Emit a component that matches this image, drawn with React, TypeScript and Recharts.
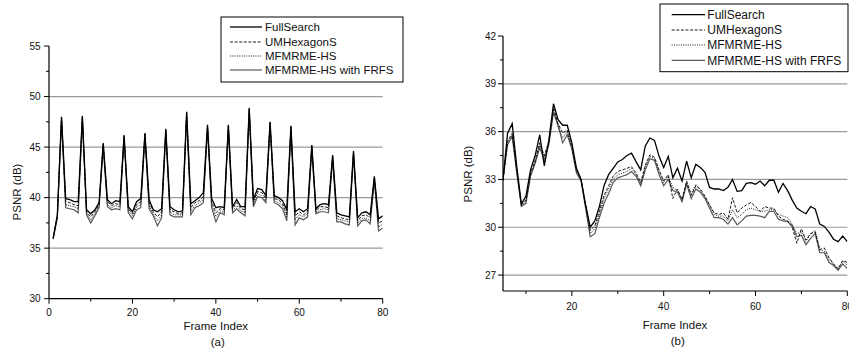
import React from 'react';
import { LineChart, Line, XAxis, YAxis, ReferenceLine } from 'recharts';

const FONT = '"Liberation Sans", Arial, Helvetica, sans-serif';

const SERIES_NAMES = ['FullSearch', 'UMHexagonS', 'MFMRME-HS', 'MFMRME-HS with FRFS'];

// Panel (a): frames 1..80
const FRAME_START_A = 1;
const FULLSEARCH_A = [36.0, 38.3, 48.0, 39.9, 39.8, 39.6, 39.6, 48.1, 38.8, 38.4, 38.8, 39.5, 45.4, 39.8, 39.4, 39.7, 39.6, 46.2, 39.1, 38.6, 39.6, 39.9, 46.4, 39.8, 38.8, 38.6, 38.9, 46.8, 39.1, 38.8, 38.6, 38.7, 48.5, 39.4, 39.7, 40.0, 40.5, 47.2, 39.9, 39.0, 39.1, 39.0, 47.2, 39.1, 39.8, 39.1, 39.1, 48.9, 39.8, 40.9, 40.8, 40.2, 47.5, 40.2, 40.0, 39.7, 38.8, 47.1, 38.6, 38.9, 38.6, 38.9, 45.2, 38.9, 39.3, 39.4, 39.3, 44.2, 38.5, 38.3, 38.2, 38.1, 44.6, 38.0, 38.5, 38.6, 38.3, 42.1, 37.9, 38.2];
const UMHEXAGONS_A = [36.0, 38.2, 47.9, 39.6, 39.5, 39.3, 39.2, 48.0, 38.6, 38.1, 38.6, 39.3, 45.3, 39.6, 39.2, 39.4, 39.3, 46.1, 38.9, 38.4, 39.3, 39.6, 46.3, 39.5, 38.6, 38.1, 38.6, 46.7, 38.8, 38.6, 38.4, 38.5, 48.4, 39.0, 39.5, 39.7, 40.1, 47.1, 39.6, 38.5, 38.9, 38.8, 47.1, 38.9, 39.5, 38.9, 38.8, 48.8, 39.6, 40.6, 40.5, 39.9, 47.4, 39.9, 39.8, 39.4, 38.4, 47.0, 38.2, 38.6, 38.3, 38.6, 45.1, 38.7, 39.1, 39.1, 39.0, 44.1, 38.2, 38.0, 37.9, 37.8, 44.5, 37.7, 38.2, 38.3, 38.0, 42.0, 37.5, 37.7];
const MFMRME_A = [35.9, 38.1, 47.8, 39.3, 39.2, 39.1, 38.9, 47.9, 38.5, 37.8, 38.4, 39.2, 45.2, 39.3, 39.0, 39.2, 39.1, 46.0, 38.7, 38.2, 39.1, 39.3, 46.2, 39.2, 38.4, 37.7, 38.3, 46.6, 38.6, 38.3, 38.3, 38.3, 48.3, 38.7, 39.2, 39.5, 39.8, 47.0, 39.3, 38.1, 38.7, 38.5, 47.0, 38.7, 39.2, 38.7, 38.5, 48.7, 39.3, 40.4, 40.2, 39.7, 47.3, 39.7, 39.5, 39.2, 38.1, 46.9, 37.8, 38.3, 38.1, 38.4, 45.0, 38.5, 38.8, 38.9, 38.8, 44.0, 37.9, 37.8, 37.7, 37.6, 44.4, 37.5, 37.9, 38.0, 37.7, 41.9, 37.1, 37.4];
const FRFS_A = [35.9, 38.0, 47.6, 39.0, 38.9, 38.8, 38.5, 47.7, 38.3, 37.5, 38.2, 39.0, 45.0, 39.1, 38.8, 38.9, 38.8, 45.8, 38.5, 37.9, 38.8, 39.0, 46.0, 38.9, 38.2, 37.2, 38.0, 46.4, 38.3, 38.1, 38.1, 38.1, 48.1, 38.3, 39.0, 39.2, 39.5, 46.8, 39.0, 37.6, 38.5, 38.3, 46.8, 38.5, 38.9, 38.5, 38.2, 48.5, 39.1, 40.1, 40.0, 39.5, 47.1, 39.5, 39.3, 38.9, 37.7, 46.7, 37.3, 38.0, 37.8, 38.1, 44.8, 38.4, 38.6, 38.6, 38.5, 43.8, 37.6, 37.6, 37.4, 37.3, 44.2, 37.2, 37.7, 37.8, 37.4, 41.7, 36.7, 37.0];

// Panel (b): frames 4..80
const FRAME_START_B = 4;
const FULLSEARCH_B = [34.3, 33.0, 35.9, 36.5, 33.8, 31.45, 31.95, 33.6, 34.5, 35.8, 33.85, 35.5, 37.75, 36.75, 36.4, 36.4, 35.3, 33.7, 33.0, 31.4, 30.0, 30.4, 31.3, 32.6, 33.3, 33.7, 34.1, 34.25, 34.5, 34.65, 34.1, 33.6, 35.1, 35.6, 35.45, 34.45, 33.75, 34.45, 33.1, 33.7, 32.9, 34.15, 33.1, 33.95, 33.75, 33.45, 32.5, 32.4, 32.4, 32.3, 32.5, 33.0, 32.25, 32.3, 32.75, 32.8, 32.7, 32.9, 32.6, 32.95, 32.95, 32.2, 32.75, 32.3, 31.7, 31.2, 31.0, 30.85, 31.3, 31.15, 30.2, 30.05, 29.7, 29.25, 29.1, 29.45, 29.1];
const UMHEXAGONS_B = [34.2, 32.9, 35.4, 35.9, 33.6, 31.4, 31.7, 33.4, 34.2, 35.3, 34.5, 35.4, 37.5, 36.5, 35.9, 36.1, 35.1, 33.6, 33.0, 31.4, 29.8, 30.1, 31.0, 32.0, 32.6, 33.2, 33.5, 33.6, 33.7, 33.8, 33.4, 32.8, 33.9, 34.55, 34.4, 33.6, 32.9, 33.3, 31.8, 32.4, 31.75, 32.9, 32.0, 32.6, 32.4, 31.95, 31.4, 30.9, 30.8, 30.9, 30.5, 31.85, 30.9, 31.2, 31.4, 31.55, 31.3, 31.0, 31.3, 31.2, 31.2, 30.7, 30.5, 30.4, 30.0, 29.0, 29.9, 29.2, 29.6, 29.7, 28.6, 28.7, 28.1, 27.7, 27.4, 27.9, 27.8];
const MFMRME_B = [34.0, 33.1, 35.3, 35.8, 33.5, 31.35, 31.6, 33.3, 34.1, 35.2, 34.4, 35.3, 37.4, 36.3, 35.6, 36.0, 35.0, 33.5, 33.0, 31.3, 29.6, 29.9, 30.8, 31.8, 32.4, 33.0, 33.3, 33.4, 33.5, 33.7, 33.3, 32.7, 33.8, 34.45, 34.3, 33.5, 32.8, 33.2, 32.5, 32.3, 31.7, 32.8, 32.1, 32.7, 32.3, 31.9, 31.4, 30.8, 30.7, 30.7, 30.4, 31.1, 30.6, 30.8, 31.1, 31.2, 31.1, 31.0, 31.0, 31.1, 31.1, 30.8, 30.7, 30.6, 30.2, 29.6, 29.7, 29.1, 29.6, 29.8, 28.6, 28.5, 28.0, 27.7, 27.4, 27.9, 27.6];
const FRFS_B = [33.8, 33.0, 35.2, 35.7, 33.4, 31.3, 31.5, 33.2, 34.0, 35.0, 34.2, 35.2, 37.2, 36.4, 35.3, 35.8, 34.9, 33.4, 32.9, 31.2, 29.4, 29.6, 30.6, 31.5, 32.1, 32.8, 33.1, 33.2, 33.3, 33.5, 33.2, 32.6, 33.6, 34.3, 34.2, 33.3, 32.6, 33.0, 32.3, 32.2, 31.6, 32.7, 31.8, 32.4, 32.2, 31.8, 31.2, 30.6, 30.6, 30.5, 30.2, 30.6, 30.15, 30.4, 30.7, 30.75, 30.75, 30.7, 30.6, 31.0, 31.0, 30.5, 30.4, 30.35, 30.1, 29.4, 29.5, 28.9, 29.3, 29.6, 28.4, 28.4, 27.8, 27.6, 27.3, 27.7, 27.4];

// Axis ticks
const X_TICKS_A = [0, 10, 20, 30, 40, 50, 60, 70, 80];
const X_MAJOR_A = [0, 20, 40, 60, 80];
const Y_TICKS_A = [30, 32.5, 35, 37.5, 40, 42.5, 45, 47.5, 50, 52.5, 55];
const Y_MAJOR_A = [30, 35, 40, 45, 50, 55];
const GRID_A = [35, 40, 45, 50];

const X_TICKS_B = [10, 20, 30, 40, 50, 60, 70, 80];
const X_MAJOR_B = [20, 40, 60, 80];
const Y_TICKS_B = [27, 28.5, 30, 31.5, 33, 34.5, 36, 37.5, 39, 40.5, 42];
const Y_MAJOR_B = [27, 30, 33, 36, 39, 42];
const GRID_B = [27, 30, 33, 36, 39];

const KEYS = ['fs', 'umh', 'mf', 'frfs'];
const STYLES: Record<string, { stroke: string; width: number; dash?: string }> = {
  fs: { stroke: '#000', width: 1.3 },
  umh: { stroke: '#000', width: 0.9, dash: '3 1.6' },
  mf: { stroke: '#000', width: 0.9, dash: '1 1.3' },
  frfs: { stroke: '#5a5a5a', width: 1.2 },
};

function buildData(start: number, fs: number[], umh: number[], mf: number[], frfs: number[]) {
  return fs.map((v, i) => ({ f: start + i, fs: v, umh: umh[i], mf: mf[i], frfs: frfs[i] }));
}

const DATA_A = buildData(FRAME_START_A, FULLSEARCH_A, UMHEXAGONS_A, MFMRME_A, FRFS_A);
const DATA_B = buildData(FRAME_START_B, FULLSEARCH_B, UMHEXAGONS_B, MFMRME_B, FRFS_B);

const makeXTick = (majors: number[], labelDy: number, fontSize: number) => (props: any) => {
  const { x, y, payload } = props;
  const v = payload.value;
  const major = majors.includes(v);
  return (
    <g>
      <line x1={x} x2={x} y1={y} y2={y + (major ? 5 : 3)} stroke="#000" strokeWidth={1} />
      {major && (
        <text x={x} y={y + labelDy} textAnchor="middle" fontSize={fontSize} fontFamily={FONT} fill="#111">
          {v}
        </text>
      )}
    </g>
  );
};

const makeYTick = (majors: number[], labelDx: number, fontSize: number) => (props: any) => {
  const { x, y, payload } = props;
  const v = payload.value;
  const major = majors.includes(v);
  return (
    <g>
      <line x1={x} x2={x - (major ? 5 : 3)} y1={y} y2={y} stroke="#000" strokeWidth={1} />
      {major && (
        <text x={x - labelDx} y={y + fontSize * 0.36} textAnchor="end" fontSize={fontSize} fontFamily={FONT} fill="#111">
          {v}
        </text>
      )}
    </g>
  );
};

type PanelProps = {
  data: any[];
  width: number;
  height: number;
  margin: { top: number; right: number; bottom: number; left: number };
  xDomain: [number, number];
  yDomain: [number, number];
  xTicks: number[];
  xMajor: number[];
  yTicks: number[];
  yMajor: number[];
  grid: number[];
  xLabelDy: number;
  yLabelDx: number;
  fontSize: number;
};

function Panel(p: PanelProps) {
  return (
    <LineChart width={p.width} height={p.height} data={p.data} margin={p.margin}>
      {p.grid.map((g) => (
        <ReferenceLine key={g} y={g} stroke="#9a9a9a" strokeWidth={1.2} />
      ))}
      <XAxis
        dataKey="f"
        type="number"
        domain={p.xDomain}
        allowDataOverflow
        ticks={p.xTicks}
        interval={0}
        height={30}
        tickSize={0}
        tickMargin={0}
        tickLine={false}
        axisLine={{ stroke: '#000', strokeWidth: 1.2 }}
        tick={makeXTick(p.xMajor, p.xLabelDy, p.fontSize)}
      />
      <YAxis
        type="number"
        domain={p.yDomain}
        allowDataOverflow
        ticks={p.yTicks}
        interval={0}
        width={30}
        tickSize={0}
        tickMargin={0}
        tickLine={false}
        axisLine={{ stroke: '#000', strokeWidth: 1.2 }}
        tick={makeYTick(p.yMajor, p.yLabelDx, p.fontSize)}
      />
      {[...KEYS].reverse().map((k) => (
        <Line
          key={k}
          dataKey={k}
          type="linear"
          stroke={STYLES[k].stroke}
          strokeWidth={STYLES[k].width}
          strokeDasharray={STYLES[k].dash}
          dot={false}
          activeDot={false}
          isAnimationActive={false}
        />
      ))}
    </LineChart>
  );
}

function LegendBox(props: { x: number; y: number; w: number; h: number; rows: number[]; lx1: number; lx2: number; tx: number; fontSize: number }) {
  const { x, y, w, h, rows, lx1, lx2, tx, fontSize } = props;
  return (
    <g>
      <rect x={x} y={y} width={w} height={h} fill="#fff" stroke="#000" strokeWidth={1} />
      {KEYS.map((k, i) => (
        <g key={k}>
          <line
            x1={lx1}
            x2={lx2}
            y1={rows[i]}
            y2={rows[i]}
            stroke={STYLES[k].stroke}
            strokeWidth={STYLES[k].width}
            strokeDasharray={STYLES[k].dash}
          />
          <text x={tx} y={rows[i] + fontSize * 0.36} fontSize={fontSize} fontFamily={FONT} fill="#111">
            {SERIES_NAMES[i]}
          </text>
        </g>
      ))}
    </g>
  );
}

export default function App() {
  return (
    <div style={{ position: 'absolute', left: 0, top: 0, width: 849, height: 351, background: '#fff', overflow: 'hidden', fontFamily: FONT }}>
      <div style={{ position: 'absolute', left: 0, top: 0 }}>
        <Panel
          data={DATA_A}
          width={420}
          height={351}
          margin={{ top: 46, right: 37.3, bottom: 22.3, left: 19 }}
          xDomain={[0, 80]}
          yDomain={[30, 55]}
          xTicks={X_TICKS_A}
          xMajor={X_MAJOR_A}
          yTicks={Y_TICKS_A}
          yMajor={Y_MAJOR_A}
          grid={GRID_A}
          xLabelDy={17.2}
          yLabelDx={8.3}
          fontSize={10}
        />
      </div>
      <div style={{ position: 'absolute', left: 420, top: 0 }}>
        <Panel
          data={DATA_B}
          width={429}
          height={351}
          margin={{ top: 36, right: 1.7, bottom: 30, left: 53 }}
          xDomain={[5, 80]}
          yDomain={[26, 42]}
          xTicks={X_TICKS_B}
          xMajor={X_MAJOR_B}
          yTicks={Y_TICKS_B}
          yMajor={Y_MAJOR_B}
          grid={GRID_B}
          xLabelDy={18.6}
          yLabelDx={7}
          fontSize={10}
        />
      </div>
      <svg width={849} height={351} style={{ position: 'absolute', left: 0, top: 0, pointerEvents: 'none' }}>
        <text x={215.8} y={329.8} textAnchor="middle" fontSize={11.5} fontFamily={FONT} fill="#111">Frame Index</text>
        <text x={217.7} y={346} textAnchor="middle" fontSize={11.5} fontFamily={FONT} fill="#111">(a)</text>
        <text transform="translate(21.1,192) rotate(-90)" textAnchor="middle" fontSize={11.5} fontFamily={FONT} fill="#111">PSNR (dB)</text>
        <text x={675} y={329} textAnchor="middle" fontSize={11.5} fontFamily={FONT} fill="#111">Frame Index</text>
        <text x={677.7} y={345} textAnchor="middle" fontSize={11.5} fontFamily={FONT} fill="#111">(b)</text>
        <text transform="translate(472.4,174) rotate(-90)" textAnchor="middle" fontSize={11.5} fontFamily={FONT} fill="#111">PSNR (dB)</text>
        <LegendBox x={221} y={17} w={182} h={65} rows={[27, 42, 56, 70]} lx1={230} lx2={262} tx={265} fontSize={11.5} />
        <LegendBox x={660} y={4} w={188} h={67.7} rows={[14.7, 30, 45, 60.3]} lx1={671.7} lx2={705} tx={707.3} fontSize={12} />
      </svg>
    </div>
  );
}
